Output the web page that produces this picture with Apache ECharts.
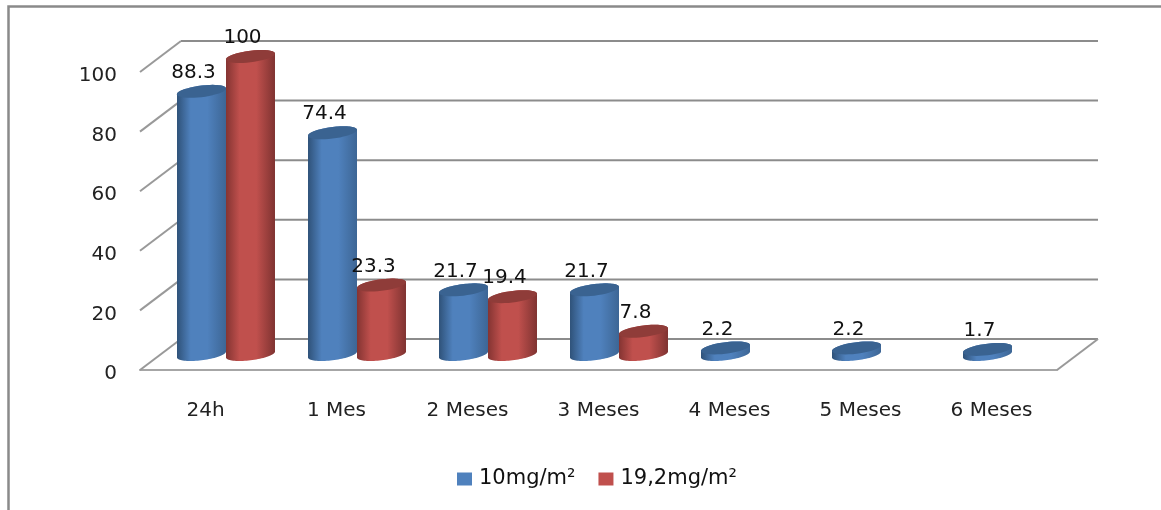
<!DOCTYPE html>
<html>
<head>
<meta charset="utf-8">
<style>html,body{margin:0;padding:0;background:#fff}#c{width:1161px;height:510px}</style>
<script src="https://cdn.jsdelivr.net/npm/echarts@6/dist/echarts.min.js"></script>
</head>
<body>
<div id="c"></div>
<script>
const categories = ['24h', '1 Mes', '2 Meses', '3 Meses', '4 Meses', '5 Meses', '6 Meses'];
const series10 = [88.3, 74.4, 21.7, 21.7, 2.2, 2.2, 1.7];
const series19 = [100, 23.3, 19.4, 7.8, null, null, null];
const yTicks = [0, 20, 40, 60, 80, 100];
const FONT = '"DejaVu Sans"';
const DX = 41, DY = -31;

const chart = echarts.init(document.getElementById('c'), null, {renderer: 'canvas'});

function ell(cx, cy, a, b, t) {
  return [cx + a * Math.cos(t), cy + b * Math.sin(t) - a * 0.12 * Math.cos(t)];
}
function arc(cx, cy, a, b, t0, t1) {
  const pts = [];
  for (let i = 0; i <= 40; i++) pts.push(ell(cx, cy, a, b, t0 + (t1 - t0) * i / 40));
  return pts;
}
function cyl(side, edgeL, mid, edgeR, topColor) {
  return function (params, api) {
    const v = api.value(1);
    if (v == null || isNaN(v)) return null;
    const i = api.value(0);
    const w = api.size([1, 0])[0];
    const a = w * 0.187;
    const b = 5.8;
    const base = api.coord([i, 0]);
    const top = api.coord([i, v]);
    const cx = base[0] + DX / 2 + side * a;
    const by = base[1] + DY / 2;
    const ty = top[1] + DY / 2;
    const body = arc(cx, by, a, b, 0, Math.PI).concat(arc(cx, ty, a, b, Math.PI, 2 * Math.PI));
    return {
      type: 'group',
      children: [
        {type: 'polygon', shape: {points: body}, style: {
          fill: new echarts.graphic.LinearGradient(0, 0, 1, 0, [
            {offset: 0, color: edgeL}, {offset: 0.28, color: mid},
            {offset: 0.62, color: mid}, {offset: 1, color: edgeR}
          ])
        }},
        {type: 'polygon', shape: {points: arc(cx, ty, a, b, 0, 2 * Math.PI)}, style: {fill: topColor}},
        {type: 'text', z2: 100, style: {
          x: cx - 8, y: ty - 18.5, text: String(v), align: 'center', verticalAlign: 'middle',
          font: '20px ' + FONT, fill: '#111'
        }}
      ]
    };
  };
}
function walls(params, api) {
  const v = api.value(0);
  const ext = params.coordSys;
  const l = api.coord([0, v]);
  const x0 = ext.x, x1 = ext.x + ext.width, y = l[1];
  const kids = [
    {type: 'line', shape: {x1: x0, y1: y, x2: x0 + DX, y2: y + DY}, style: {stroke: '#999', lineWidth: 2}},
    {type: 'line', shape: {x1: x0 + DX, y1: y + DY, x2: x1 + DX, y2: y + DY}, style: {stroke: '#8c8c8c', lineWidth: 2}}
  ];
  if (v === 0) kids.push({type: 'line', shape: {x1: x1, y1: y, x2: x1 + DX, y2: y + DY}, style: {stroke: '#999', lineWidth: 2}});
  return {type: 'group', children: kids};
}

chart.setOption({
  animation: false,
  backgroundColor: '#fff',
  graphic: [{type: 'polyline', silent: true, shape: {points: [[8.5, 510], [8.5, 6.5], [1161, 6.5]]},
    style: {stroke: '#8a8a8a', lineWidth: 2.5, fill: null}}],
  legend: {
    data: ['10mg/m²', '19,2mg/m²'], left: 457, top: 468.5, padding: 0, itemWidth: 15, itemHeight: 13, itemGap: 23,
    icon: 'rect', textStyle: {fontFamily: FONT, fontSize: 21, color: '#111', padding: [0, 0, 0, 2]}
  },
  grid: {left: 140, top: 72, width: 917, height: 298},
  xAxis: {
    type: 'category', data: categories,
    axisLine: {lineStyle: {color: '#a6a6a6', width: 2}},
    axisTick: {show: false},
    axisLabel: {margin: 31, fontFamily: FONT, fontSize: 20, color: '#222'}
  },
  yAxis: {
    type: 'value', min: 0, max: 100, interval: 20,
    axisLine: {show: false}, axisTick: {show: false}, splitLine: {show: false},
    axisLabel: {margin: 23, fontFamily: FONT, fontSize: 20, color: '#222', verticalAlign: 'top', lineHeight: 8}
  },
  series: [
    {type: 'custom', name: 'walls', z: 1, silent: true, coordinateSystem: 'cartesian2d',
     data: yTicks.map(t => [t]), encode: {y: 0}, renderItem: function (p, api) {
       const v = api.value(0);
       return walls(p, {value: () => v, coord: api.coord});
     }},
    {type: 'custom', name: '10mg/m²', z: 2, itemStyle: {color: '#4f81bd'},
     data: series10.map((v, i) => [i, v]), encode: {x: 0, y: 1},
     renderItem: cyl(-1, '#2f5279', '#4f81bd', '#3d6695', '#3a6391')},
    {type: 'custom', name: '19,2mg/m²', z: 2, itemStyle: {color: '#c0504d'},
     data: series19.map((v, i) => [i, v]), encode: {x: 0, y: 1},
     renderItem: cyl(1, '#843432', '#c0504d', '#7f3331', '#8f3c39')}
  ]
});
</script>
</body>
</html>
